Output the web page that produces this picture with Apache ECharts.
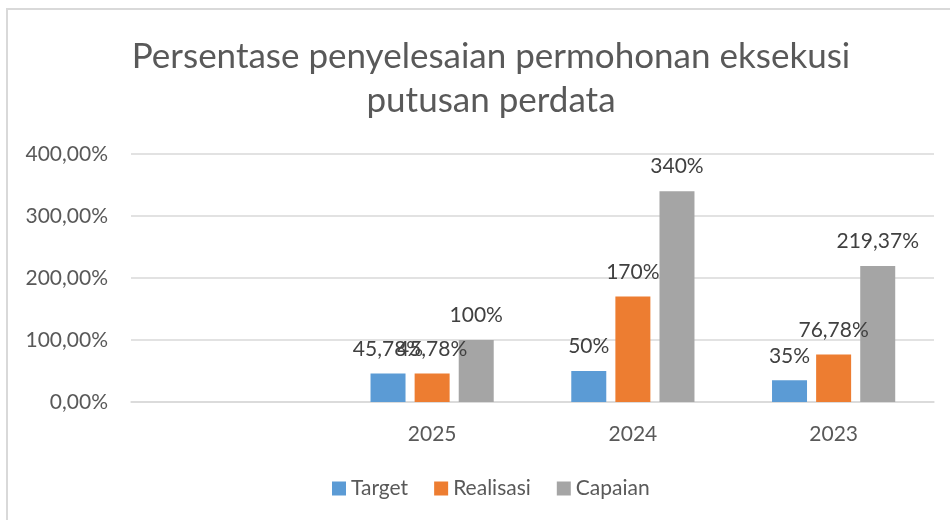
<!DOCTYPE html>
<html>
<head>
<meta charset="utf-8">
<script src="https://cdn.jsdelivr.net/npm/echarts@6/dist/echarts.min.js"></script>
<style>
  html, body { margin: 0; padding: 0; background: #fff; }
  #chart { width: 950px; height: 520px; }
</style>
</head>
<body>
<div id="chart"></div>
<script>
// data (percent values)
var categories = ['', '2025', '2024', '2023'];
var seriesNames = ['Target', 'Realisasi', 'Capaian'];
var targetData = [null, 45.78, 50, 35];
var realisasiData = [null, 45.78, 170, 76.78];
var capaianData = [null, 100, 340, 219.37];
var yTicks = [0, 100, 200, 300, 400];

var FONT = 'Lato';
var colors = ['#5B9BD5', '#ED7D31', '#A5A5A5'];

function pct(v) {
    return String(v).replace('.', ',') + '%';
}

function barSeries(name, data, color) {
    return {
        name: name,
        type: 'bar',
        data: data,
        barWidth: 35,
        barGap: '26%',
        itemStyle: { color: color },
        label: {
            show: true,
            position: 'top',
            distance: 14,
            fontFamily: FONT,
            fontSize: 21,
            color: '#404040',
            formatter: function (p) { return pct(p.value); }
        }
    };
}

var myChart = echarts.init(document.getElementById('chart'));
var option = {
    backgroundColor: '#ffffff',
    animation: false,
    color: colors,
    title: {
        text: 'Persentase penyelesaian permohonan eksekusi\nputusan perdata',
        left: 486,
        top: 30,
        textAlign: 'center',
        textStyle: {
            fontFamily: FONT,
            fontWeight: 'normal',
            fontSize: 35,
            lineHeight: 44,
            color: '#595959'
        }
    },
    graphic: [{
        type: 'rect',
        shape: { x: 7, y: 9, width: 1000, height: 1000 },
        style: { fill: 'none', stroke: '#D9D9D9', lineWidth: 2 },
        silent: true
    }],
    legend: {
        data: seriesNames,
        left: 327,
        top: 473,
        icon: 'rect',
        itemWidth: 14,
        itemHeight: 14,
        itemGap: 26,
        textStyle: { fontFamily: FONT, fontSize: 21, color: '#595959' }
    },
    grid: { left: 131, right: 16, top: 154, bottom: 118 },
    xAxis: {
        type: 'category',
        data: categories,
        axisTick: { show: false },
        axisLine: { lineStyle: { color: '#D9D9D9', width: 1.5 } },
        axisLabel: { margin: 22, fontFamily: FONT, fontSize: 21, color: '#595959' }
    },
    yAxis: {
        type: 'value',
        min: yTicks[0],
        max: yTicks[yTicks.length - 1],
        interval: 100,
        axisLine: { show: false },
        axisTick: { show: false },
        splitLine: { lineStyle: { color: '#D9D9D9', width: 1.5 } },
        axisLabel: {
            margin: 23,
            fontFamily: FONT,
            fontSize: 21,
            color: '#595959',
            formatter: function (v) { return v.toFixed(2).replace('.', ',') + '%'; }
        }
    },
    series: [
        barSeries(seriesNames[0], targetData, colors[0]),
        barSeries(seriesNames[1], realisasiData, colors[1]),
        barSeries(seriesNames[2], capaianData, colors[2])
    ]
};
myChart.setOption(option);
</script>
</body>
</html>
